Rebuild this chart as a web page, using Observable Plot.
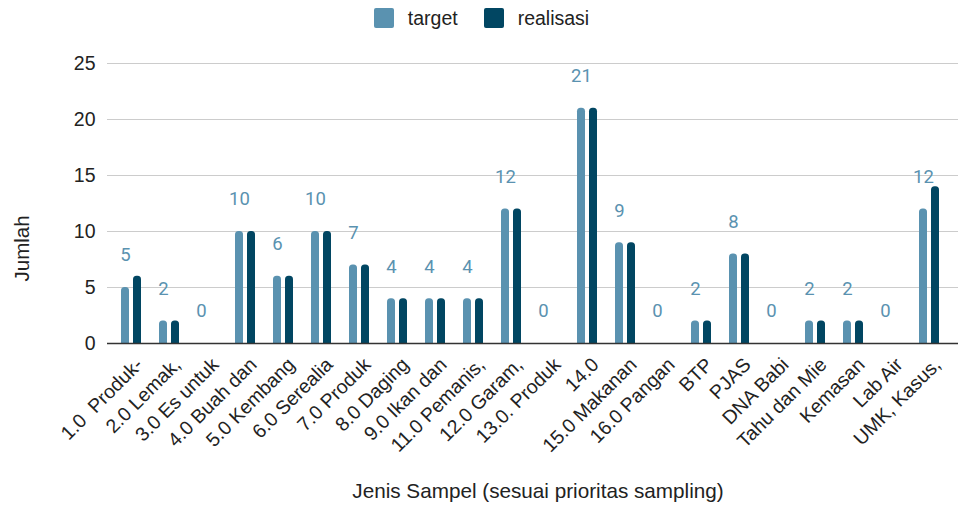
<!DOCTYPE html>
<html>
<head>
<meta charset="utf-8">
<script src="https://cdn.jsdelivr.net/npm/d3@7"></script>
<script src="https://cdn.jsdelivr.net/npm/@observablehq/plot@0.6"></script>
<style>
  html, body { margin: 0; padding: 0; background: #fff; }
  #legend { height: 36px; display: flex; justify-content: center; align-items: center;
    font-family: "Liberation Sans", Arial, sans-serif; font-size: 19.5px; color: #222; }
  #legend .item { display: flex; align-items: center; margin: 0 13px; }
  #legend .sw { width: 20px; height: 20px; border-radius: 2px; margin-right: 14px; }
  #chart svg { display: block; }
</style>
</head>
<body>
<div id="legend"></div>
<div id="chart"></div>
<script>
const categories = ["1.0  Produk-", "2.0 Lemak,", "3.0 Es untuk", "4.0 Buah dan", "5.0 Kembang", "6.0 Serealia", "7.0 Produk", "8.0 Daging", "9.0 Ikan dan", "11.0 Pemanis,", "12.0 Garam,", "13.0. Produk", "14.0", "15.0 Makanan", "16.0 Pangan", "BTP", "PJAS", "DNA Babi", "Tahu dan Mie", "Kemasan", "Lab Air", "UMK, Kasus,"];
const target    = [5, 2, 0, 10, 6, 10, 7, 4, 4, 4, 12, 0, 21, 9, 0, 2, 8, 0, 2, 2, 0, 12];
const realisasi = [6, 2, 0, 10, 6, 10, 7, 4, 4, 4, 12, 0, 21, 9, 0, 2, 8, 0, 2, 2, 0, 14];
const seriesNames = ["target", "realisasi"];
const yTicks = [0, 5, 10, 15, 20, 25];
const colors = ["#5a92b0", "#014662"];

const rows = categories.map((c, i) => ({cat: c, target: target[i], realisasi: realisasi[i]}));

// legend
const legend = document.getElementById("legend");
seriesNames.forEach((s, i) => {
  const it = document.createElement("div"); it.className = "item";
  const sw = document.createElement("div"); sw.className = "sw"; sw.style.background = colors[i];
  const tx = document.createElement("span"); tx.textContent = s;
  it.appendChild(sw); it.appendChild(tx); legend.appendChild(it);
});

const font = "'Liberation Sans', Arial, sans-serif";
const chart = Plot.plot({
  width: 963,
  height: 475,
  marginTop: 27,
  marginBottom: 168,
  marginLeft: 107,
  marginRight: 5,
  style: {fontFamily: font, color: "#222", background: "#fff"},
  x: {domain: categories, padding: 0, insetLeft: 5, insetRight: 10, label: null},
  y: {domain: [0, 25], ticks: yTicks, label: null},
  marks: [
    Plot.gridY(yTicks, {stroke: "#cccccc", strokeOpacity: 1, strokeWidth: 1}),
    Plot.axisY(yTicks, {tickSize: 0, tickPadding: 12, fontSize: 19.5, label: null}),
    Plot.axisX({tickSize: 0, tickRotate: -45, fontSize: 19.5, tickPadding: 10, dx: 8, dy: 8, label: null}),
    Plot.barY(rows, {x: "cat", y: "target", fill: colors[0], insetLeft: 9, insetRight: 21, insetBottom: -6, rx: 3.5, ry: 3.5, clip: true}),
    Plot.barY(rows, {x: "cat", y: "realisasi", fill: colors[1], insetLeft: 21, insetRight: 9, insetBottom: -6, rx: 3.5, ry: 3.5, clip: true}),
    Plot.ruleY([0], {stroke: "#333", strokeWidth: 1.3}),
    Plot.text(rows, {x: "cat", y: "target", text: d => String(d.target), dx: -6, dy: -32,
      fill: colors[0], fontSize: 18.5, fontFamily: "Roboto"}),
    Plot.text(["Jumlah"], {frameAnchor: "left", dx: -85, dy: 78, rotate: -90, fontSize: 20.5, fill: "#222"}),
    Plot.text(["Jenis Sampel (sesuai prioritas sampling)"], {frameAnchor: "bottom", dx: 5, dy: 154, fontSize: 20.7, fill: "#222"})
  ]
});
document.getElementById("chart").appendChild(chart);
</script>
</body>
</html>
